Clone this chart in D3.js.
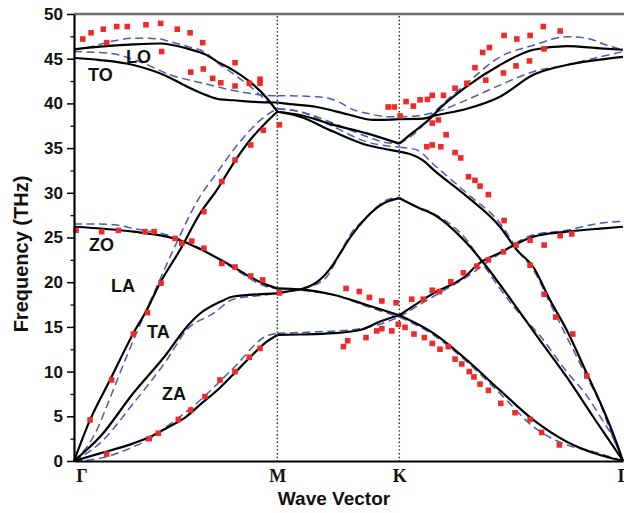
<html>
<script src="https://d3js.org/d3.v7.min.js"></script>
<style>
body { margin: 0; background: #fff; }
text { font-family: "Liberation Sans", Arial, sans-serif; font-weight: bold; fill: #111; }
.xlab text { font-family: "Liberation Serif", "Times New Roman", serif; font-size: 18px; }
</style>
<body>
<svg width=624 height=513></svg>
<script>
// wave vector path: Γ = 0, M = 1, K = 1.6, Γ = 2.7 ; frequency in THz
var xTicks = [0, 1, 1.6, 2.7];
var xTickLabels = ["Γ", "M", "K", "Γ"];
var yTicks = [0, 5, 10, 15, 20, 25, 30, 35, 40, 45, 50];
var yMinor = [2.5, 7.5, 12.5, 17.5, 22.5, 27.5, 32.5, 37.5, 42.5, 47.5];

// solid curves
var zaSolid = [[0,0],[0.128,0.85],[0.292,1.97],[0.374,2.7],[0.456,3.7],[0.554,5.0],[0.62,6.3],[0.718,8.2],[0.784,9.7],[0.866,11.6],[0.948,13.35],[1,14.1],
  [1.112,14.15],[1.275,14.3],[1.407,14.65],[1.505,15.6],[1.6,16.3],
  [1.767,14.3],[1.932,11.3],[2.095,7.9],[2.259,4.6],[2.423,2.16],[2.587,0.67],[2.7,0]];
var taSolid = [[0,0],[0.128,2.7],[0.292,7.6],[0.456,12.0],[0.554,15.0],[0.62,16.5],[0.718,17.8],[0.784,18.4],[0.948,18.7],[1,18.75],
  [1.046,18.95],[1.128,19.3],[1.194,20.0],[1.275,22.0],[1.308,23.2],[1.358,25.0],[1.44,27.3],[1.521,28.8],[1.6,29.4],
  [1.702,28.25],[1.767,27.6],[1.932,24.35],[2.03,21.7],[2.161,17.65],[2.292,13.5],[2.423,9.4],[2.553,4.95],[2.653,1.6],[2.7,0]];
var laSolid = [[0,0],[0.079,4.6],[0.177,9.06],[0.292,14.3],[0.358,16.9],[0.423,19.9],[0.521,23.6],[0.62,27.7],[0.702,30.3],[0.784,33.3],[0.866,35.9],[0.948,37.95],[1,39.07],
  [1.112,38.5],[1.275,36.85],[1.44,35.35],[1.554,34.8],[1.6,34.6],
  [1.718,33.6],[1.767,32.6],[1.932,29.6],[2.095,26.2],[2.178,23.6],[2.259,21.7],[2.341,18.0],[2.423,14.65],[2.522,9.8],[2.604,5.7],[2.669,2.0],[2.7,0]];
var zoSolid = [[0,26.2],[0.292,25.65],[0.456,25.1],[0.521,24.7],[0.62,23.7],[0.784,21.7],[0.866,20.6],[0.948,19.7],[1,19.3],
  [1.112,19.2],[1.275,18.6],[1.44,17.45],[1.6,16.3],
  [1.767,18.75],[1.932,20.8],[1.981,21.9],[2.095,23.3],[2.259,25.1],[2.423,25.65],[2.587,26.0],[2.7,26.2]];
var toSolid = [[0,45.08],[0.128,44.85],[0.292,44.3],[0.456,43.05],[0.554,41.9],[0.653,40.9],[0.718,40.45],[0.784,40.35],[0.866,40.2],[1,40.1],
  [1.03,40.0],[1.194,39.6],[1.358,38.7],[1.472,38.15],[1.6,38.25],
  [1.718,38.3],[1.767,38.6],[1.932,39.4],[2.095,40.75],[2.259,43.2],[2.423,44.3],[2.587,44.9],[2.7,45.2]];
var loSolid = [[0,46.05],[0.128,46.35],[0.292,46.6],[0.423,46.7],[0.554,46.15],[0.653,45.4],[0.702,44.7],[0.784,43.7],[0.866,42.4],[0.948,40.6],[1,39.07],
  [1.112,38.7],[1.275,37.6],[1.44,36.65],[1.6,35.5],
  [1.653,36.5],[1.751,38.3],[1.8,39.45],[1.932,41.9],[2.095,44.3],[2.259,46.0],[2.423,46.4],[2.587,46.15],[2.7,46.0]];

// dashed curves
var zaDashed = [[0,0],[0.128,0.3],[0.292,1.6],[0.374,2.5],[0.456,3.84],[0.62,6.8],[0.784,10.4],[0.948,14.0],[1,14.3],
  [1.194,14.45],[1.358,14.65],[1.505,15.3],[1.6,16.1],
  [1.767,14.1],[1.932,11.1],[2.095,7.56],[2.259,3.84],[2.423,1.8],[2.554,1.04],[2.7,0]];
var taDashed = [[0,0],[0.128,2.0],[0.292,6.45],[0.456,11.3],[0.554,14.65],[0.685,16.5],[0.784,18.1],[0.948,18.6],[1,18.8],
  [1.046,18.95],[1.161,19.5],[1.243,20.6],[1.308,23.2],[1.358,25.3],[1.44,27.3],[1.538,29.2],[1.6,29.5],
  [1.669,28.6],[1.767,27.7],[1.932,24.7],[2.03,21.4],[2.161,17.3],[2.292,14.0],[2.423,10.0],[2.522,7.3],[2.587,5.0],[2.653,2.5],[2.7,0]];
var laDashed = [[0,0],[0.095,2.7],[0.193,7.94],[0.259,11.7],[0.341,16.1],[0.407,19.5],[0.488,23.6],[0.62,29.6],[0.702,32.2],[0.784,34.8],[0.866,37.0],[0.948,38.7],[1,39.4],
  [1.112,39.07],[1.275,37.4],[1.44,35.7],[1.554,35.2],[1.6,35.1],
  [1.686,34.8],[1.767,33.2],[1.932,29.95],[2.095,26.6],[2.194,23.2],[2.259,21.4],[2.341,17.65],[2.423,13.9],[2.522,9.4],[2.587,6.45],[2.636,3.5],[2.7,0]];
var zoDashed = [[0,26.5],[0.128,26.5],[0.21,26.4],[0.292,26.0],[0.456,25.3],[0.62,23.8],[0.784,21.55],[0.948,19.5],[1,19.26],
  [1.112,19.1],[1.275,18.6],[1.44,17.3],[1.6,16.1],
  [1.767,18.4],[1.932,20.6],[2.095,23.2],[2.259,25.3],[2.423,25.8],[2.587,26.6],[2.7,26.8]];
var toDashed = [[0,45.8],[0.177,45.6],[0.341,44.5],[0.472,43.2],[0.636,42.25],[0.816,41.3],[0.948,40.9],[1,40.85],
  [1.03,40.85],[1.194,40.75],[1.275,40.4],[1.325,39.9],[1.358,39.45],[1.44,38.9],[1.554,38.5],[1.6,38.5],
  [1.686,38.6],[1.784,39.07],[1.932,40.4],[2.095,42.05],[2.259,43.55],[2.423,44.3],[2.587,45.2],[2.7,45.8]];
var loDashed = [[0,46.0],[0.095,46.4],[0.177,46.9],[0.307,47.3],[0.423,47.2],[0.472,46.9],[0.554,46.4],[0.653,45.6],[0.702,44.6],[0.784,43.3],[0.866,41.9],[0.948,40.3],[1,39.4],
  [1.112,39.07],[1.275,37.8],[1.44,36.3],[1.538,35.6],[1.6,35.5],
  [1.686,36.85],[1.767,38.9],[1.932,42.25],[2.095,45.2],[2.259,46.5],[2.423,47.45],[2.522,47.3],[2.62,46.5],[2.7,46.0]];

// experimental points
var expPoints = [
  [0.043,47.2],[0.084,47.9],[0.144,48.3],[0.21,48.6],[0.262,48.6],[0.354,48.8],[0.426,48.95],[0.508,48.3],[0.571,47.9],[0.633,46.8],
  [0.161,46.8],[0.431,45.8],[0.574,43.5],[0.636,43.85],[0.682,42.8],[0.722,42.3],[0.792,44.55],[0.792,41.95],[0.862,42.25],[0.915,42.7],[0.915,42.25],
  [0.079,4.6],[0.185,9.06],[0.292,14.2],[0.361,16.6],[0.428,19.9],[0.639,27.9],[0.727,31.25],[0.792,33.67],[0.869,35.35],[0.931,37.0],[1.01,37.6],
  [0.161,0.78],[0.37,2.5],[0.415,3.1],[0.513,4.65],[0.574,5.7],[0.644,7.2],[0.718,9.06],[0.792,10.0],[0.862,11.6],[0.915,12.6],
  [0.01,25.8],[0.136,25.65],[0.218,25.8],[0.349,25.65],[0.394,25.65],[0.497,24.9],[0.53,24.35],[0.579,24.6],[0.639,23.8],[0.727,22.1],[0.792,21.7],[0.869,20.7],[0.928,20.25],[1.01,18.8],
  [1.338,19.3],[1.403,18.95],[1.453,18.3],[1.514,17.9],[1.584,17.7],[1.661,18.1],[1.718,18.1],[1.762,19.1],[1.797,18.95],[1.853,20.05],[1.915,21.05],[1.981,21.8],[2.038,22.5],[2.112,23.4],[2.174,24.15],[2.243,24.7],[2.312,24.15],[2.391,25.2],[2.448,25.4],
  [1.325,12.8],[1.346,13.45],[1.436,13.8],[1.489,14.55],[1.514,14.8],[1.563,14.55],[1.595,15.3],[1.628,14.95],[1.672,14.2],[1.723,13.8],[1.762,13.15],[1.8,12.5],[1.841,12.8],[1.874,11.4],[1.907,10.85],[1.944,10.0],[1.967,9.4],[1.997,8.6],[2.038,7.9],[2.099,6.45],[2.169,5.4],[2.243,4.65],[2.3,3.2],[2.387,1.8],
  [2.243,21.9],[2.312,18.65],[2.369,16.1],[2.453,14.2],[2.522,9.5],[2.115,26.9],[2.038,29.8],[1.997,30.75],[1.972,31.4],[1.94,31.8],[1.902,33.9],[1.874,34.5],[1.83,36.5],[1.804,35.15],[1.762,35.35],[1.735,35.15],[1.792,38.15],[1.762,37.8],
  [1.545,39.6],[1.575,39.6],[1.604,38.6],[1.633,40.2],[1.669,39.7],[1.702,40.4],[1.738,40.45],[1.762,40.9],[1.817,40.9],[1.874,41.7],[1.932,42.25],[1.972,44.0],[2.01,45.7],[2.043,46.25],[2.025,42.6],
  [2.115,47.6],[2.112,43.4],[2.178,47.2],[2.174,44.2],[2.243,47.6],[2.24,44.75],[2.308,48.6],[2.312,46.1],[2.391,48.1]
];

// branch names and where they are written (data units)
var branchLabels = [["LO",0.256,44.5],["TO",0.069,42.5],["ZO",0.074,23.5],["LA",0.182,18.9],["TA",0.359,13.76],["ZA",0.433,6.82]];

var solidCurves = [zaSolid, taSolid, laSolid, zoSolid, toSolid, loSolid];
var dashedCurves = [zaDashed, taDashed, laDashed, zoDashed, toDashed, loDashed];

var svg = d3.select("svg");
var x = d3.scaleLinear().domain([0, 2.7]).range([74, 623]);
var y = d3.scaleLinear().domain([0, 50]).range([461, 14]);

// split each curve at M and K so the kinks stay
function pieces(pts) {
  var out = [];
  for (var i = 0; i < xTicks.length - 1; i++) {
    out.push(pts.filter(function(p) { return p[0] >= xTicks[i] && p[0] <= xTicks[i + 1]; }));
  }
  return out;
}
var line = d3.line()
  .x(function(d) { return x(d[0]); })
  .y(function(d) { return y(d[1]); })
  .curve(d3.curveMonotoneX);

// top frame
svg.append("line")
  .attr("x1", x(0)).attr("x2", 624)
  .attr("y1", y(50)).attr("y2", y(50))
  .attr("stroke", "#6e6e6e").attr("stroke-width", 2.5);

// dotted lines at M and K
svg.selectAll(".sym").data(xTicks.slice(1, 3)).enter().append("line")
  .attr("x1", function(d) { return x(d); }).attr("x2", function(d) { return x(d); })
  .attr("y1", y(50) + 2).attr("y2", y(0))
  .attr("stroke", "#222").attr("stroke-width", 1.4).attr("stroke-dasharray", "1.4,2.4");

// dashed curves
dashedCurves.forEach(function(c) {
  svg.selectAll(null).data(pieces(c)).enter().append("path")
    .attr("d", line)
    .attr("fill", "none").attr("stroke", "#4d5cab").attr("stroke-width", 1.5)
    .attr("stroke-dasharray", "8,4.5");
});

// solid curves
solidCurves.forEach(function(c) {
  svg.selectAll(null).data(pieces(c)).enter().append("path")
    .attr("d", line)
    .attr("fill", "none").attr("stroke", "#000").attr("stroke-width", 2.2);
});

// experimental squares
svg.selectAll(".pt").data(expPoints).enter().append("rect")
  .attr("x", function(d) { return x(d[0]) - 2.8; })
  .attr("y", function(d) { return y(d[1]) - 2.8; })
  .attr("width", 5.6).attr("height", 5.6)
  .attr("fill", "#ef2a2a");

// axes
var gy = svg.append("g").attr("transform", "translate(" + x(0) + ",0)")
  .call(d3.axisLeft(y).tickValues(yTicks).tickSize(7).tickSizeOuter(0).tickPadding(4));
gy.selectAll("text").style("font-size", "17px");
gy.selectAll("line").attr("stroke-width", 1.5);
gy.select(".domain").attr("stroke-width", 2.2);

svg.append("g").attr("transform", "translate(" + x(0) + ",0)")
  .call(d3.axisLeft(y).tickValues(yMinor).tickSize(3.5).tickSizeOuter(0).tickFormat(""))
  .call(function(g) { g.select(".domain").remove(); })
  .selectAll("line").attr("stroke-width", 1.3);

var gx = svg.append("g").attr("class", "xlab").attr("transform", "translate(0," + y(0) + ")")
  .call(d3.axisBottom(x).tickValues(xTicks).tickSize(0).tickSizeOuter(0).tickPadding(8)
    .tickFormat(function(d, i) { return xTickLabels[i]; }));
gx.select(".domain").attr("stroke-width", 2.2);
gx.selectAll("text")
  .attr("dx", function(d, i) { return i === 0 ? "7.5" : "0"; });

// branch labels
svg.selectAll(".bl").data(branchLabels).enter().append("text")
  .attr("x", function(d) { return x(d[1]); })
  .attr("y", function(d) { return y(d[2]); })
  .style("font-size", "18px")
  .text(function(d) { return d[0]; });

// axis titles
svg.append("text")
  .attr("x", 334).attr("y", 505)
  .attr("text-anchor", "middle")
  .style("font-size", "19px")
  .text("Wave Vector");

svg.append("text")
  .attr("transform", "translate(28,254) rotate(-90)")
  .attr("text-anchor", "middle")
  .style("font-size", "20px")
  .text("Frequency (THz)");
</script>
</body>
</html>
